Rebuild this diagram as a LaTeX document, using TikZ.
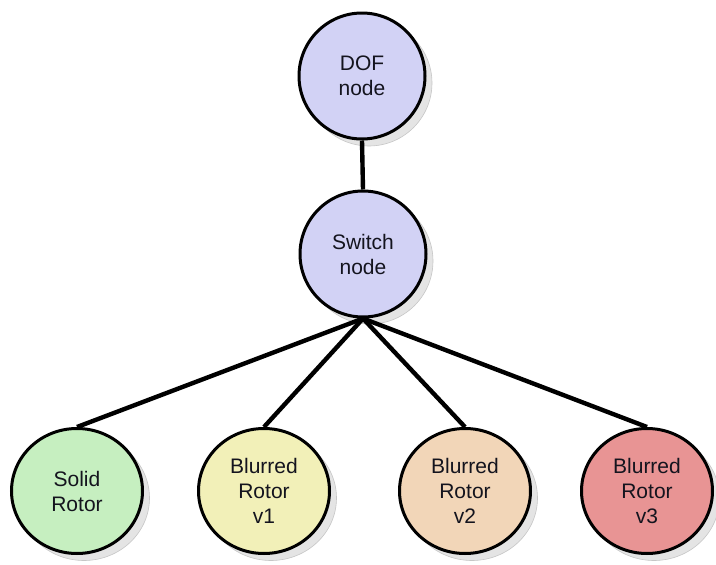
\documentclass[tikz,border=0pt]{standalone}
\usepackage{fontspec}
\setmainfont{Liberation Sans}
\usetikzlibrary{shadows,shapes.geometric}
\definecolor{lav}{RGB}{210,210,245}
\definecolor{grn}{RGB}{198,239,192}
\definecolor{ylw}{RGB}{242,240,184}
\definecolor{pch}{RGB}{242,214,184}
\definecolor{pnk}{RGB}{232,148,148}
\definecolor{shd}{RGB}{228,228,228}
\definecolor{txt}{RGB}{20,20,30}
\begin{document}
\begin{tikzpicture}[x=1pt,y=-1pt,
  bubble/.style={ellipse, draw=black, line width=3pt, inner sep=0pt, align=center,
    font=\fontsize{21}{25}\selectfont, text=txt,
    drop shadow={shadow xshift=7pt, shadow yshift=-7pt, fill=shd, draw=gray!45, line width=0.6pt, opacity=1}},
  topb/.style={bubble, minimum width=126pt, minimum height=126pt},
  botb/.style={bubble, minimum width=131pt, minimum height=125pt},
  link/.style={draw=black, line width=4.4pt}]
\useasboundingbox (0,0) rectangle (716,565);
\node[topb, fill=lav] (dof) at (362,76) {DOF\\node};
\node[topb, fill=lav] (sw) at (363,254) {Switch\\node};
\node[botb, fill=grn] (solid) at (77,491) {Solid\\Rotor};
\node[botb, fill=ylw] (v1) at (264,491) {Blurred\\Rotor\\v1};
\node[botb, fill=pch] (v2) at (465,491) {Blurred\\Rotor\\v2};
\node[botb, fill=pnk] (v3) at (647,491) {Blurred\\Rotor\\v3};
\draw[link] (dof.south) -- (sw.north);
\draw[link] (sw.south) -- (solid.north);
\draw[link] (sw.south) -- (v1.north);
\draw[link] (sw.south) -- (v2.north);
\draw[link] (sw.south) -- (v3.north);
\end{tikzpicture}
\end{document}
